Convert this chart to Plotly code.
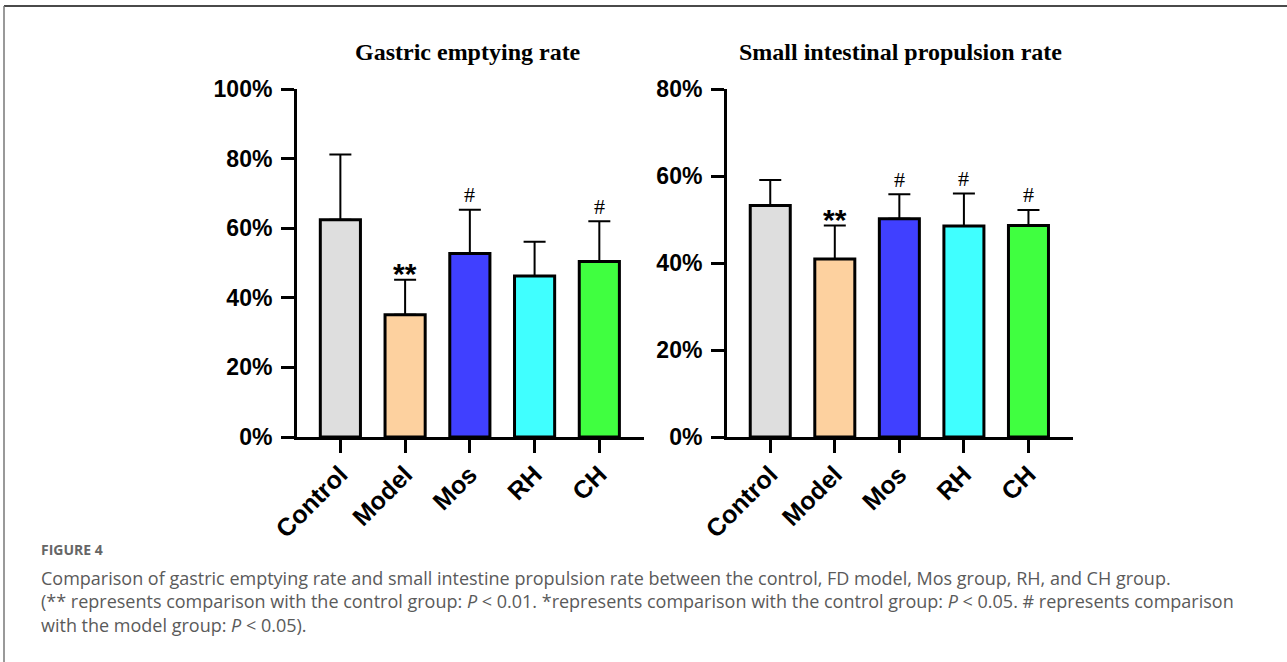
import plotly.graph_objects as go

categories = ["Control", "Model", "Mos", "RH", "CH"]
colors = ["#DEDEDE", "#FDD19F", "#4040FF", "#40FFFF", "#40FF40"]

gastric_mean = [62.4, 35.1, 52.7, 46.3, 50.4]
gastric_sd = [18.8, 10.1, 12.6, 9.8, 11.6]
gastric_sig = ["", "**", "#", "", "#"]

intestinal_mean = [53.2, 40.9, 50.2, 48.5, 48.6]
intestinal_sd = [5.9, 7.7, 5.6, 7.5, 3.6]
intestinal_sig = ["", "**", "#", "#", "#"]

gastric_ticks = [0, 20, 40, 60, 80, 100]
intestinal_ticks = [0, 20, 40, 60, 80]

W, H = 1287, 662

def px_x(p):
    return p / W

def px_y(p):
    return 1 - p / H

fig = go.Figure()

for mean, sd, xa, ya in [(gastric_mean, gastric_sd, "x", "y"),
                         (intestinal_mean, intestinal_sd, "x2", "y2")]:
    fig.add_trace(go.Bar(
        x=categories, y=mean, xaxis=xa, yaxis=ya,
        marker=dict(color=colors, line=dict(color="black", width=3)),
        error_y=dict(type="data", symmetric=False, array=sd,
                     arrayminus=[0] * len(sd), thickness=2, width=11,
                     color="black"),
        showlegend=False, hoverinfo="skip",
    ))

annotations = []
for mean, sd, sig, xr, yr in [(gastric_mean, gastric_sd, gastric_sig, "x", "y"),
                              (intestinal_mean, intestinal_sd, intestinal_sig, "x2", "y2")]:
    for c, m, s, g in zip(categories, mean, sd, sig):
        if not g:
            continue
        if g == "**":
            font = dict(family="Liberation Sans", size=30, color="black", weight="bold")
            ys = 6
        else:
            font = dict(family="Liberation Serif", size=22, color="black")
            ys = 15
        annotations.append(dict(x=c, y=m + s, xref=xr, yref=yr, text=g,
                                showarrow=False, font=font, yanchor="middle",
                                yshift=ys))

title_font = dict(family="Liberation Serif", size=24, color="black", weight="bold")
annotations.append(dict(x=px_x(468), y=px_y(52), xref="paper", yref="paper",
                        text="Gastric emptying rate", showarrow=False,
                        font=title_font, xanchor="center", yanchor="middle"))
annotations.append(dict(x=px_x(900), y=px_y(52), xref="paper", yref="paper",
                        text="Small intestinal propulsion rate", showarrow=False,
                        font=title_font, xanchor="center", yanchor="middle"))

annotations.append(dict(x=px_x(39), y=px_y(549), xref="paper", yref="paper",
                        text="FIGURE 4", showarrow=False,
                        font=dict(family="Open Sans", size=14, color="#666666", weight="bold"),
                        xanchor="left", yanchor="middle"))
caption_lines = [
    "Comparison of gastric emptying rate and small intestine propulsion rate between the control, FD model, Mos group, RH, and CH group.",
    "(** represents comparison with the control group: <i>P</i> &lt; 0.01. *represents comparison with the control group: <i>P</i> &lt; 0.05. # represents comparison",
    "with the model group: <i>P</i> &lt; 0.05).",
]
annotations.append(dict(x=px_x(39), y=px_y(601), xref="paper", yref="paper",
                        text="<br>".join(caption_lines), showarrow=False,
                        font=dict(family="Open Sans", size=18, color="#5a5a5a"),
                        xanchor="left", yanchor="middle", align="left"))

tick_font = dict(family="Liberation Sans", size=23, color="black", weight="bold")
xcat_font = dict(family="Liberation Sans", size=25, color="black", weight="bold")

common_x = dict(showline=True, linecolor="black", linewidth=3, ticks="outside",
                ticklen=13, tickwidth=3, tickcolor="black", tickangle=-45,
                tickfont=xcat_font, range=[-0.67, 4.69], showgrid=False,
                zeroline=False, fixedrange=True, automargin=False,
                ticklabelstandoff=-3)
common_y = dict(showline=True, linecolor="black", linewidth=3, ticks="outside",
                ticklen=13, tickwidth=3, tickcolor="black", tickfont=tick_font,
                tickmode="array", showgrid=False, zeroline=False,
                fixedrange=True, ticklabelstandoff=4, automargin=False)

ydom = [px_y(437), px_y(89)]

fig.update_layout(
    template="none",
    width=W, height=H, autosize=False,
    margin=dict(l=0, r=0, t=0, b=0, pad=0),
    paper_bgcolor="white", plot_bgcolor="white",
    bargap=0.38,
    xaxis=dict(domain=[px_x(297), px_x(644)], anchor="y", **common_x),
    yaxis=dict(domain=ydom, anchor="x", range=[0, 100], tickvals=gastric_ticks,
               ticktext=[f"{t}%" for t in gastric_ticks], **common_y),
    xaxis2=dict(domain=[px_x(727), px_x(1073)], anchor="y2", **common_x),
    yaxis2=dict(domain=ydom, anchor="x2", range=[0, 80], tickvals=intestinal_ticks,
                ticktext=[f"{t}%" for t in intestinal_ticks], **common_y),
    annotations=annotations,
    shapes=[
        dict(type="line", xref="paper", yref="paper", x0=px_x(4), x1=1,
             y0=px_y(6), y1=px_y(6), line=dict(color="#4a4a4a", width=2)),
        dict(type="line", xref="paper", yref="paper", x0=px_x(4), x1=px_x(4),
             y0=0, y1=px_y(6), line=dict(color="#777777", width=1.5)),
    ],
)

fig.write_html("out.html", config={"displayModeBar": False},
               post_script="document.body.style.margin='0';document.body.style.overflow='hidden';")
